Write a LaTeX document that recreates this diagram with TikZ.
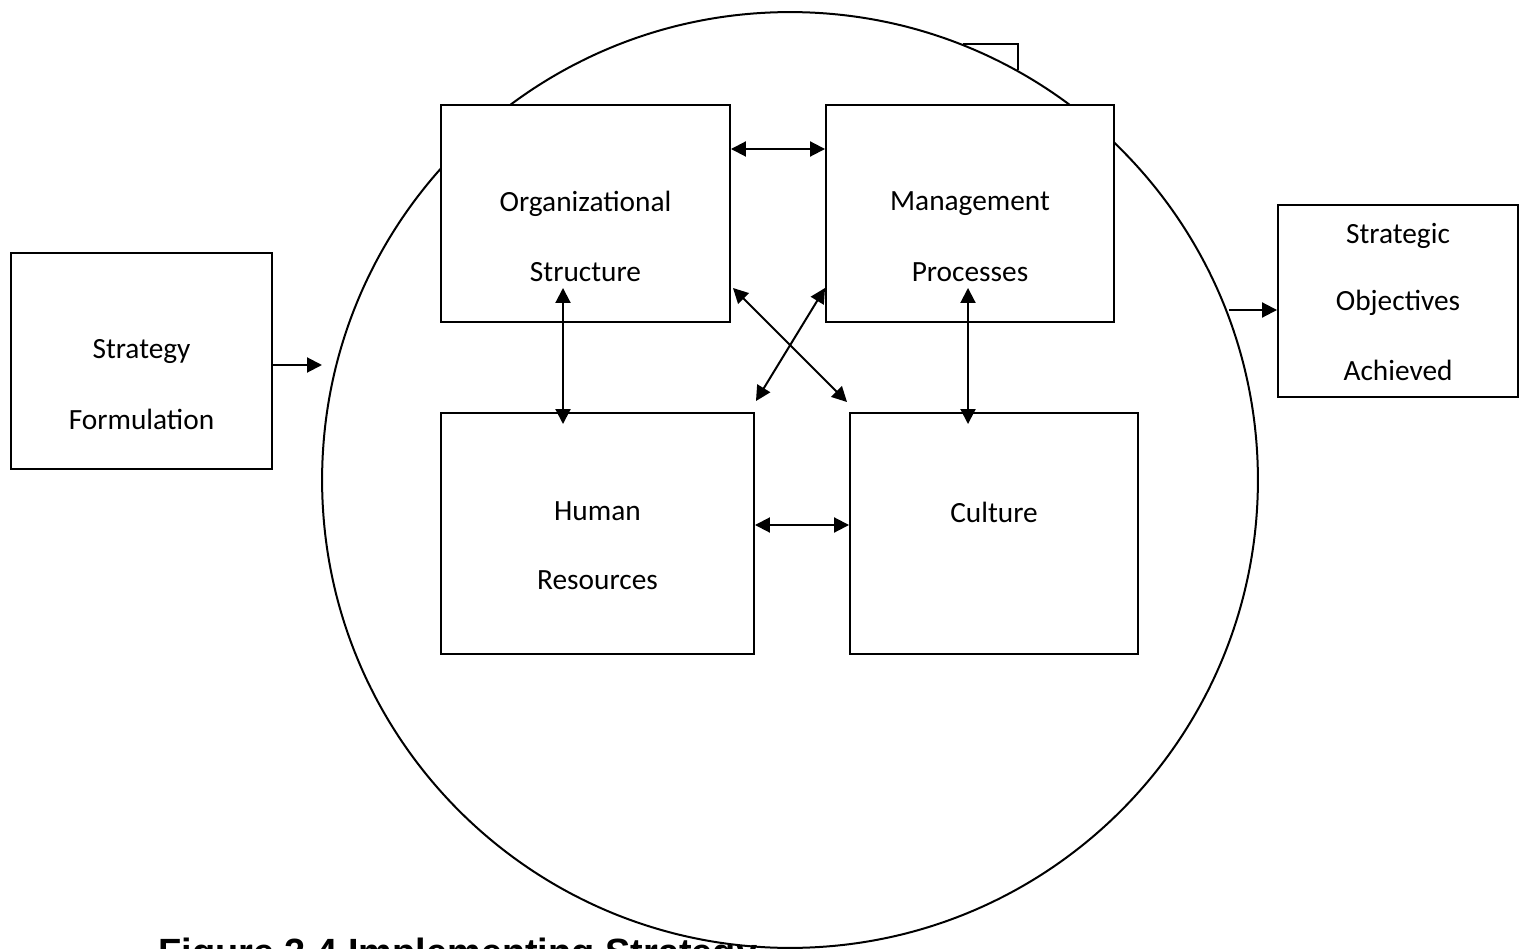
\documentclass[tikz,border=0pt]{standalone}
\usepackage{fontspec}
\setmainfont{Carlito}
\newfontfamily\capfont{Liberation Sans}
\usetikzlibrary{arrows.meta, shapes, calc}

\begin{document}
\begin{tikzpicture}[x=0.02cm, y=-0.02cm]

    % Page frame
    \useasboundingbox (0,0) rectangle (1527,949);
    \clip (0,0) rectangle (1527,949);

    % Styles
    \tikzset{bx/.style={draw, fill = white, line width = 0.04cm, inner sep = 0pt}}
    \tikzset{lbl/.style={font = \fontsize{16.7}{20}\selectfont}}
    \tikzset{link/.style={line width = 0.04cm, {Triangle[length=0.3cm, width=0.3cm]}-{Triangle[length=0.3cm, width=0.3cm]}}}
    \tikzset{flow/.style={line width = 0.04cm, -{Triangle[length=0.3cm, width=0.3cm]}}}

    % Implementation circle
    \node (core) [draw, shape = circle, line width = 0.04cm, inner sep = 0pt, minimum size = 18.72cm] at (790, 480) {};
    \draw[line width = 0.04cm] (963, 44) -- (1018, 44) -- (1018, 70);

    % Boxes
    \node (sf) [bx, minimum width = 5.22cm, minimum height = 4.32cm] at (141.5, 361) {};
    \node (os) [bx, minimum width = 5.78cm, minimum height = 4.34cm] at (585.5, 213.5) {};
    \node (mp) [bx, minimum width = 5.76cm, minimum height = 4.34cm] at (970, 213.5) {};
    \node (hr) [bx, minimum width = 6.26cm, minimum height = 4.82cm] at (597.5, 533.5) {};
    \node (cu) [bx, minimum width = 5.76cm, minimum height = 4.82cm] at (994, 533.5) {};
    \node (so) [bx, minimum width = 4.80cm, minimum height = 3.84cm] at (1398, 301) {};

    % Box texts
    \node [lbl] at (141.5, 352) {Strategy};
    \node [lbl] at (141.5, 419) {Formulation};
    \node [lbl] at (585.5, 204) {Organizational};
    \node [lbl] at (585.5, 272) {Structure};
    \node [lbl] at (970, 204) {Management};
    \node [lbl] at (970, 272) {Processes};
    \node [lbl] at (597.5, 511) {Human};
    \node [lbl] at (597.5, 580) {Resources};
    \node [lbl] at (994, 512) {Culture};
    \node [lbl] at (1398, 236) {Strategic};
    \node [lbl] at (1398, 303) {Objectives};
    \node [lbl] at (1398, 370) {Achieved};

    % In and out
    \coordinate (cin) at (322, 365);
    \coordinate (cout) at (1229, 310);
    \draw[flow] (sf.east |- cin) -- (cin);
    \draw[flow] (cout) -- (cout -| so.west);

    % Links between the four elements
    \draw[link] (os.east |- 0, 149) -- (mp.west |- 0, 149);
    \draw[link] (hr.east |- 0, 525) -- (cu.west |- 0, 525);
    \draw[link] ($(os.south)+(-22.5, -35)$) -- ($(hr.north)+(-34.5, 12)$);
    \draw[link] ($(mp.south)+(-2, -35)$) -- ($(cu.north)+(-26, 12)$);
    \draw[link] ($(os.south east)+(2, -35)$) -- ($(cu.north west)+(-2, -10)$);
    \draw[link] ($(mp.south west)+(0, -35)$) -- ($(hr.north east)+(1, -11)$);

    % Caption
    \node [anchor = base west, inner sep = 0pt, font = \capfont\bfseries\fontsize{21.6}{26}\selectfont] at (158, 965) {Figure 2.4 Implementing Strategy};

\end{tikzpicture}
\end{document}
